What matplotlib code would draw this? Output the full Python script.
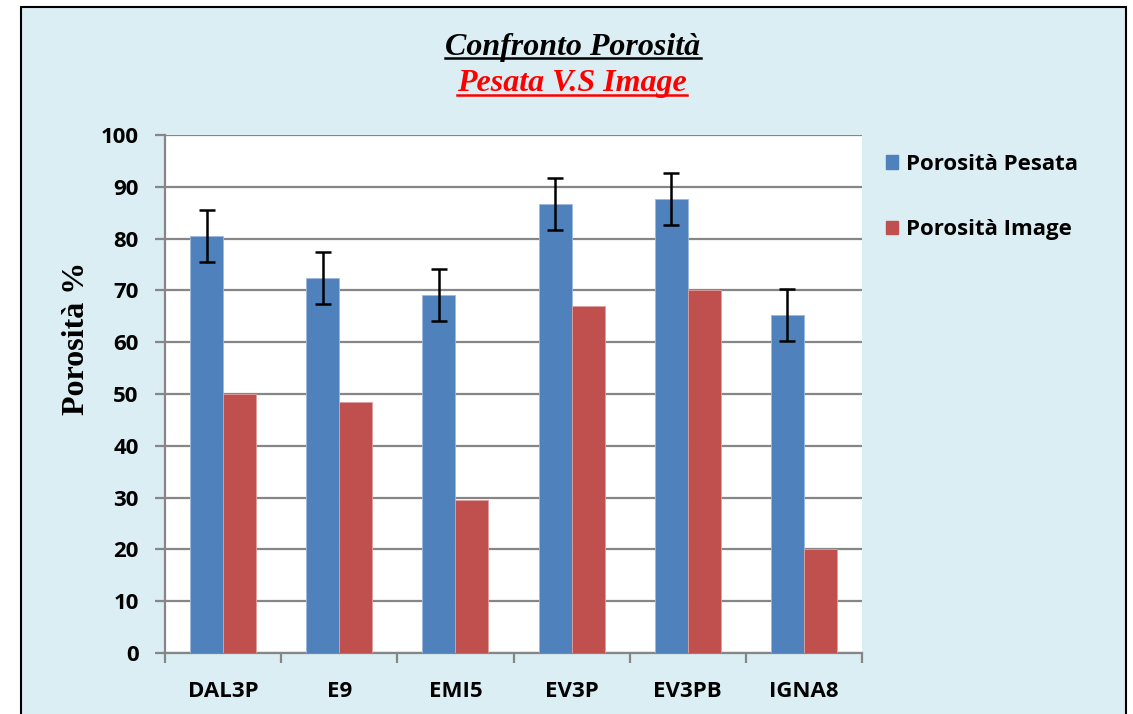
import matplotlib
matplotlib.use("Agg")
import matplotlib.pyplot as plt
import numpy as np
from matplotlib.patches import Rectangle
from matplotlib.lines import Line2D

categories = ["DAL3P", "E9", "EMI5", "EV3P", "EV3PB", "IGNA8"]
pesata = [80.5, 72.4, 69.1, 86.7, 87.6, 65.3]
pesata_err = [5, 5, 5, 5, 5, 5]
image = [50.0, 48.5, 29.5, 67.0, 70.1, 20.1]
series_names = ["Porosità Pesata", "Porosità Image"]
title1 = "Confronto Porosità"
title2 = "Pesata V.S Image"
ylabel = "Porosità %"

W, H = 1133, 714
fig = plt.figure(figsize=(W/100, H/100), dpi=100)
bg = "#DBEEF3"
fig.patch.set_facecolor("white")
bgrect = Rectangle((21/W, -0.05), (1126-21)/W, (714-7)/H + 0.05, transform=fig.transFigure,
                   facecolor=bg, edgecolor="black", linewidth=1.5, zorder=-5)
fig.add_artist(bgrect)

ax = fig.add_axes([165/W, 1-653/H, (862-165)/W, (653-135)/H])
ax.set_zorder(2)
ax.set_facecolor("white")
x = np.arange(len(categories))
w = 0.284
blue = "#4F81BD"
red = "#C0504D"
ax.bar(x - w/2, pesata, w, color=blue, edgecolor="#9DB8DB", linewidth=0.6, label=series_names[0], zorder=3)
ax.errorbar(x - w/2, pesata, yerr=pesata_err, fmt="none", ecolor="black", elinewidth=1.8,
            capsize=5.5, capthick=1.8, zorder=4)
ax.bar(x + w/2, image, w, color=red, edgecolor="#E0A09E", linewidth=0.6, label=series_names[1], zorder=3)

ax.set_xlim(-0.5, len(categories) - 0.5)
ax.set_ylim(0, 100)
ax.set_yticks(np.arange(0, 101, 10))
ax.yaxis.grid(True, color="#868686", linewidth=1.6, zorder=1)
ax.set_axisbelow(True)
for s in ["top", "right"]:
    ax.spines[s].set_visible(False)
for s in ["left", "bottom"]:
    ax.spines[s].set_color("#868686")
    ax.spines[s].set_linewidth(1.6)

ax.set_xticks(x)
ax.set_xticklabels(categories)
ax.tick_params(axis="x", length=0, pad=20)
ax.set_xticks(np.arange(-0.5, len(categories), 1), minor=True)
ax.tick_params(axis="x", which="minor", length=7, width=1.6, color="#868686")
ax.tick_params(axis="y", length=7, width=1.6, color="#868686", pad=12)
for lab in ax.get_xticklabels() + ax.get_yticklabels():
    lab.set_fontfamily("Open Sans")
    lab.set_fontweight("bold")
    lab.set_fontsize(16)

fig.text(77/W, 1-338/H, ylabel, rotation=90, ha="center", va="center", fontfamily="Liberation Serif",
         fontweight="bold", fontsize=23)

leg = fig.legend(handles=[Rectangle((0, 0), 1, 1, color=blue), Rectangle((0, 0), 1, 1, color=red)],
                 labels=series_names, loc="upper left", bbox_to_anchor=(866/W, 1-134/H),
                 frameon=False, handlelength=0.55, handleheight=0.55, handletextpad=0.35,
                 labelspacing=2.0, prop={"family": "Open Sans", "weight": "bold", "size": 16})

t1 = fig.text(573/W, 1-47/H, title1, ha="center", va="center", fontfamily="Liberation Serif",
              fontweight="bold", fontstyle="italic", fontsize=23, color="black")
t2 = fig.text(572/W, 1-84/H, title2, ha="center", va="center", fontfamily="Liberation Serif",
              fontweight="bold", fontstyle="italic", fontsize=23, color="#FF0000")

fig.canvas.draw()
r = fig.canvas.get_renderer()
for t, c in [(t1, "black"), (t2, "#FF0000")]:
    bb = t.get_window_extent(r)
    yline = bb.y0 + 4
    fig.add_artist(Line2D([bb.x0/W, bb.x1/W], [yline/H, yline/H], transform=fig.transFigure,
                          color=c, linewidth=1.8))

fig.savefig("out.png", dpi=100, facecolor=fig.get_facecolor())
